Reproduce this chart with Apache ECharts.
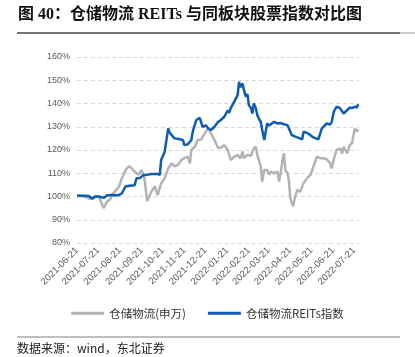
<!DOCTYPE html>
<html><head><meta charset="utf-8">
<script src="https://cdn.jsdelivr.net/npm/echarts@6/dist/echarts.min.js"></script>
<style>html,body{margin:0;padding:0;background:#fff}#c{width:415px;height:357px}</style>
</head><body><div id="c"></div>
<script>
var tickDates = ['2021-06-21','2021-07-21','2021-08-21','2021-09-21','2021-10-21','2021-11-21','2021-12-21','2022-01-21','2022-02-21','2022-03-21','2022-04-21','2022-05-21','2022-06-21','2022-07-21'];
var yTicks = [80,90,100,110,120,130,140,150,160];

var reitsDates = ['2021-06-21','2021-07-02','2021-07-08','2021-07-13','2021-07-17','2021-07-22','2021-07-29','2021-08-03','2021-08-10','2021-08-19','2021-08-24','2021-08-29','2021-09-04','2021-09-11','2021-09-14','2021-09-19','2021-09-24','2021-09-28','2021-10-05','2021-10-14','2021-10-17','2021-10-19','2021-10-24','2021-10-29','2021-10-31','2021-11-03','2021-11-05','2021-11-07','2021-11-12','2021-11-14','2021-11-19','2021-11-21','2021-11-26','2021-12-01','2021-12-03','2021-12-08','2021-12-13','2021-12-17','2021-12-22','2021-12-25','2021-12-29','2022-01-03','2022-01-08','2022-01-12','2022-01-17','2022-01-22','2022-01-24','2022-01-26','2022-01-31','2022-02-05','2022-02-07','2022-02-09','2022-02-12','2022-02-14','2022-02-17','2022-02-19','2022-02-21','2022-02-24','2022-02-26','2022-02-28','2022-03-03','2022-03-05','2022-03-08','2022-03-10','2022-03-12','2022-03-15','2022-03-17','2022-03-19','2022-03-22','2022-03-24','2022-03-29','2022-04-03','2022-04-07','2022-04-12','2022-04-17','2022-04-21','2022-04-23','2022-05-01','2022-05-08','2022-05-10','2022-05-17','2022-05-24','2022-05-31','2022-06-05','2022-06-12','2022-06-17','2022-06-19','2022-06-22','2022-06-26','2022-07-01','2022-07-06','2022-07-11','2022-07-15','2022-07-18','2022-07-22','2022-07-25','2022-07-27'];
var reitsVals = [100.4,100.3,100.2,99.0,100.0,100.0,99.4,100.5,100.6,100.5,101.4,104.3,104.6,104.8,107.9,108.0,109.3,109.3,109.7,109.7,109.3,115.7,119.3,129.3,127.5,126.4,127.0,125.0,124.8,125.3,124.3,122.1,122.5,124.3,127.9,132.9,133.8,130.0,130.6,129.3,128.6,130.0,132.0,132.9,134.3,137.1,136.0,137.9,140.7,143.6,149.3,147.0,148.6,145.7,142.9,144.0,139.3,138.0,135.7,140.0,138.0,135.0,133.0,132.1,128.6,124.3,125.0,131.4,130.5,130.0,132.1,131.4,131.6,131.1,130.7,128.0,126.4,125.4,124.6,127.9,127.0,125.4,124.6,129.3,131.4,131.0,132.0,136.4,138.6,138.0,135.7,137.1,138.3,138.0,138.6,138.3,139.7];

var swDates = ['2021-06-21','2021-07-02','2021-07-09','2021-07-17','2021-07-22','2021-07-29','2021-08-03','2021-08-07','2021-08-11','2021-08-16','2021-08-20','2021-08-24','2021-08-28','2021-08-31','2021-09-04','2021-09-09','2021-09-14','2021-09-17','2021-09-21','2021-09-23','2021-09-25','2021-09-29','2021-10-05','2021-10-10','2021-10-14','2021-10-19','2021-10-24','2021-10-29','2021-11-03','2021-11-07','2021-11-12','2021-11-17','2021-11-21','2021-11-26','2021-11-29','2021-12-01','2021-12-06','2021-12-10','2021-12-15','2021-12-20','2021-12-25','2021-12-29','2022-01-03','2022-01-08','2022-01-12','2022-01-17','2022-01-22','2022-01-26','2022-01-31','2022-02-05','2022-02-09','2022-02-12','2022-02-14','2022-02-19','2022-02-24','2022-02-28','2022-03-03','2022-03-05','2022-03-10','2022-03-12','2022-03-15','2022-03-19','2022-03-22','2022-03-24','2022-03-29','2022-04-03','2022-04-05','2022-04-07','2022-04-10','2022-04-12','2022-04-14','2022-04-17','2022-04-19','2022-04-21','2022-04-25','2022-04-28','2022-05-01','2022-05-05','2022-05-10','2022-05-15','2022-05-20','2022-05-24','2022-05-29','2022-06-03','2022-06-07','2022-06-12','2022-06-17','2022-06-19','2022-06-22','2022-06-26','2022-07-01','2022-07-04','2022-07-06','2022-07-11','2022-07-13','2022-07-15','2022-07-18','2022-07-22','2022-07-25','2022-07-27'];
var swVals = [100.2,100.0,99.0,100.0,100.0,95.0,97.9,98.6,101.0,102.9,104.3,107.9,110.5,112.1,113.0,111.5,110.0,109.3,111.4,111.0,108.0,98.0,102.1,104.3,100.7,105.7,107.9,112.1,114.3,113.0,113.6,115.7,116.5,117.1,114.3,120.0,121.4,124.3,124.5,127.1,129.3,127.1,124.3,121.0,121.0,122.1,120.0,115.7,117.1,117.9,116.4,119.3,116.5,117.9,117.5,120.7,121.4,117.9,112.9,106.4,111.4,111.4,109.3,110.7,110.0,110.7,106.4,109.5,115.7,118.6,111.4,110.0,107.1,99.3,95.8,100.0,102.9,102.0,105.7,107.9,109.3,112.9,117.1,116.5,116.5,116.0,114.3,112.1,116.0,120.0,120.7,118.5,121.4,118.6,120.5,122.1,123.0,129.3,127.9,128.8];

var seriesNames = ['仓储物流(申万)', '仓储物流REITs指数'];
var titleText = '图 40：仓储物流 REITs 与同板块股票指数对比图';
var sourceText = '数据来源：wind，东北证券';

function ts(s){ var p = s.split('-'); return Date.UTC(+p[0], +p[1]-1, +p[2]); }
function pad(n){ return (n<10?'0':'')+n; }
function zip(d, v){ return d.map(function(x,i){ return [ts(x), v[i]]; }); }

var chart = echarts.init(document.getElementById('c'), null, {renderer:'canvas'});
chart.setOption({
  animation: false,
  backgroundColor: '#fff',
  grid: {left: 77, right: 56, top: 57, bottom: 114, containLabel: false},
  xAxis: {
    type: 'value',
    min: ts('2021-06-21'), max: ts('2022-07-28'),
    axisLine: {show: false},
    axisTick: {show: false},
    splitLine: {show: false},
    axisLabel: {
      customValues: tickDates.map(ts),
      rotate: 45, fontSize: 9.5, color: '#595959', margin: 6,
      fontFamily: 'Liberation Sans, Arial, sans-serif',
      formatter: function(v){ var d = new Date(v); return d.getUTCFullYear()+'-'+pad(d.getUTCMonth()+1)+'-'+pad(d.getUTCDate()); }
    }
  },
  yAxis: {
    type: 'value', min: yTicks[0], max: yTicks[yTicks.length-1], interval: 10,
    axisLine: {show: false}, axisTick: {show: false},
    axisLabel: {formatter: '{value}%', fontSize: 9, color: '#595959', margin: 7, fontFamily: 'Liberation Sans, Arial, sans-serif'},
    splitLine: {lineStyle: {type: [4,3], color: '#d9d9d9', width: 1}}
  },
  legend: {
    bottom: 33, left: 'center', itemGap: 22, itemWidth: 33, itemHeight: 3, icon: 'rect',
    textStyle: {fontSize: 11.5, color: '#333', fontFamily: 'Noto Sans CJK SC'},
    data: seriesNames
  },
  series: [
    {name: seriesNames[0], type: 'line', showSymbol: false, symbol: 'none', data: zip(swDates, swVals),
     lineStyle: {color: '#b3b3b3', width: 2.5}, itemStyle: {color: '#b3b3b3'}, z: 2},
    {name: seriesNames[1], type: 'line', showSymbol: false, symbol: 'none', data: zip(reitsDates, reitsVals),
     lineStyle: {color: '#0d5db3', width: 2.5}, itemStyle: {color: '#0d5db3'}, z: 3}
  ],
  graphic: [
    {type: 'text', left: 18, top: 7, style: {text: titleText, font: 'bold 16px "Liberation Serif", "Noto Sans CJK SC", serif', fill: '#111'}},
    {type: 'line', shape: {x1: 17, y1: 33, x2: 400, y2: 33}, style: {stroke: '#444', lineWidth: 1.5}},
    {type: 'line', shape: {x1: 400, y1: 33, x2: 415, y2: 33}, style: {stroke: '#bbb', lineWidth: 1.5}},
    {type: 'line', shape: {x1: 17, y1: 337, x2: 400, y2: 337}, style: {stroke: '#aaa', lineWidth: 1.5}},
    {type: 'text', left: 17, top: 342, style: {text: sourceText, font: '12px "Noto Sans CJK SC", sans-serif', fill: '#222'}}
  ]
});
</script></body></html>
